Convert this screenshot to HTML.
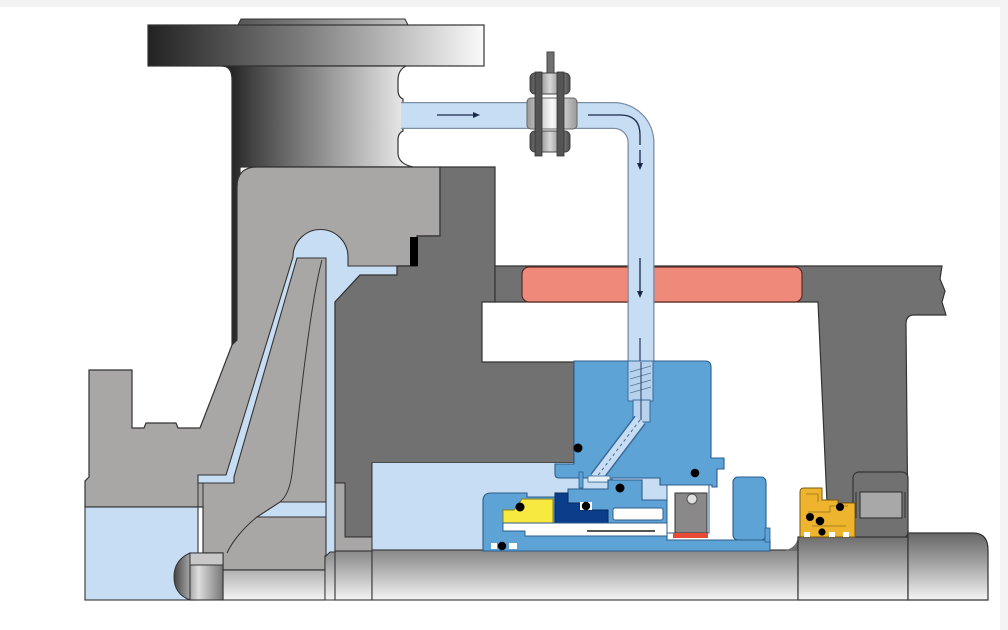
<!DOCTYPE html>
<html><head><meta charset="utf-8"><style>
html,body{margin:0;padding:0;background:#fff;}
svg{display:block}
</style></head><body>
<svg width="1008" height="630" viewBox="0 0 1008 630" xmlns="http://www.w3.org/2000/svg">
<defs>
<linearGradient id="gFl" gradientUnits="userSpaceOnUse" x1="148" y1="0" x2="484" y2="0">
 <stop offset="0" stop-color="#222"/><stop offset="0.45" stop-color="#7a7a7a"/><stop offset="1" stop-color="#fafafa"/>
</linearGradient>
<linearGradient id="gNeck" gradientUnits="userSpaceOnUse" x1="232" y1="0" x2="410" y2="0">
 <stop offset="0" stop-color="#262626"/><stop offset="0.12" stop-color="#444"/><stop offset="0.55" stop-color="#999"/><stop offset="1" stop-color="#eeeeee"/>
</linearGradient>
<linearGradient id="gShaft" gradientUnits="userSpaceOnUse" x1="0" y1="533" x2="0" y2="600">
 <stop offset="0" stop-color="#666"/><stop offset="0.45" stop-color="#a2a2a2"/><stop offset="1" stop-color="#f4f4f4"/>
</linearGradient>
<linearGradient id="gNut" gradientUnits="userSpaceOnUse" x1="174" y1="0" x2="223" y2="0">
 <stop offset="0" stop-color="#444"/><stop offset="0.5" stop-color="#ddd"/><stop offset="1" stop-color="#777"/>
</linearGradient>
<linearGradient id="gBolt" x1="0" y1="0" x2="1" y2="0">
 <stop offset="0" stop-color="#4a4a4a"/><stop offset="0.5" stop-color="#d8d8d8"/><stop offset="1" stop-color="#4a4a4a"/>
</linearGradient>
<linearGradient id="gBody" x1="0" y1="0" x2="1" y2="0">
 <stop offset="0" stop-color="#999"/><stop offset="0.5" stop-color="#fafafa"/><stop offset="1" stop-color="#999"/>
</linearGradient>
</defs>

<!-- background strips -->
<rect x="0" y="0" width="1008" height="7" fill="#f3f3f3"/>
<rect x="1000" y="0" width="8" height="630" fill="#f4f4f4"/>

<!-- flange -->
<path d="M238 25 L241 19 H405 L408 25 Z" fill="url(#gFl)" stroke="#333" stroke-width="1"/>
<rect x="148" y="25" width="336" height="41" fill="url(#gFl)" stroke="#333" stroke-width="1.2"/>

<!-- neck -->
<path d="M222 66 H406 Q398 70 398 80 V90 Q398 97 403 99 V131 Q398 133 398 140 V154 Q399 164 413 167 H240 V342 L232 346 V80 Q232 66 222 66 Z" fill="url(#gNeck)" stroke="#333" stroke-width="1.2"/>

<!-- horizontal/vertical pipe -->
<path d="M401 115.5 H614 A27 27 0 0 1 641 142.5 V362" fill="none" stroke="#7a8ea4" stroke-width="27"/>
<path d="M401 115.5 H614 A27 27 0 0 1 641 142.5 V362" fill="none" stroke="#c6ddf3" stroke-width="24.5"/>

<!-- valve -->
<rect x="547" y="52" width="7" height="25" fill="#707070" stroke="#444" stroke-width="1"/>
<rect x="530" y="73" width="40" height="21" rx="5" fill="url(#gBolt)" stroke="#444" stroke-width="1"/>
<rect x="530" y="131" width="40" height="21" rx="5" fill="url(#gBolt)" stroke="#444" stroke-width="1"/>
<rect x="527" y="98" width="50" height="31" rx="4" fill="url(#gBody)" stroke="#666" stroke-width="1"/>
<rect x="535" y="72" width="7" height="84" fill="#555" stroke="#333" stroke-width="0.8"/>
<rect x="557" y="72" width="7" height="84" fill="#555" stroke="#333" stroke-width="0.8"/>

<!-- flow arrows -->
<line x1="437" y1="115" x2="474" y2="115" stroke="#1b2a48" stroke-width="1.3"/>
<polygon points="480,115 473,112 473,118" fill="#1b2a48"/>
<path d="M588 115 H620 Q640 115 640 135 V164" fill="none" stroke="#1b2a48" stroke-width="1.3"/>
<polygon points="640,170 637,163 643,163" fill="#1b2a48"/>

<!-- light gray casing + impeller -->
<path d="M237 187 Q237 167 257 167 H440 V236 H417 V266 H397 V275 H360 L335 302 V552 L325 556 V570 H223 V553 H203 V507 H85 V481 L89 477 V370 H132 V428 H144 L146 423 H176 L178 428 H200 L232 345 L237 340 Z" fill="#a9a6a6" stroke="#333" stroke-width="1.2"/>
<line x1="198" y1="483" x2="198" y2="507" stroke="#333" stroke-width="1"/>
<line x1="203" y1="483" x2="203" y2="553" stroke="#333" stroke-width="1"/>

<!-- blue channel -->
<path d="M198 475 H226 L293 257 A27 27 0 0 1 348 257 V266 H397 V275 H360 L335 302 V552 L326 556 V258 H297 L234 477 V483 H198 Z" fill="#c6ddf3" stroke="#333" stroke-width="1.1"/>
<!-- impeller passage and vane line -->
<path d="M280 502 H326 V517 H257 Z" fill="#c6ddf3" stroke="#333" stroke-width="1"/>
<path d="M322 260 C311 300 300 400 293 465 C291 488 286 497 280 502 L257 517 C243 528 232 542 227 553" fill="none" stroke="#333" stroke-width="1"/>
<line x1="297" y1="258" x2="326" y2="258" stroke="#333" stroke-width="1"/>

<!-- dark gray block -->
<path d="M440 167 H495 V302 H482 V362 H574 V463 H372 V537 H345 V483 H335 V302 L360 275 H397 V266 H417 V236 H440 Z" fill="#727171" stroke="#333" stroke-width="1.2"/>
<path d="M335 483 H345 V537 H372 V551 H335 Z" fill="#a9a6a6" stroke="#333" stroke-width="1"/>
<rect x="410" y="237" width="8" height="29" fill="#000"/>

<!-- bearing bar + leg -->
<path d="M495 266 H942 L940 279 L945 291 L942 302 L946 315 H914 Q906 315 906 324 L908 538 H853 V503 H827 L818 302 H495 Z" fill="#727171" stroke="#333" stroke-width="1.2"/>
<rect x="522" y="267" width="280" height="35" rx="7" fill="#ef8a7b" stroke="#5a2a24" stroke-width="1.2"/>

<!-- vertical pipe over bar (seamless with path) -->
<rect x="628.75" y="145" width="24.5" height="217" fill="#c6ddf3"/>
<line x1="628.125" y1="145" x2="628.125" y2="362" stroke="#7a8ea4" stroke-width="1.25"/>
<line x1="653.875" y1="145" x2="653.875" y2="362" stroke="#7a8ea4" stroke-width="1.25"/>
<line x1="640" y1="150" x2="640" y2="164" stroke="#1b2a48" stroke-width="1.3"/>
<polygon points="640,170 637,163 643,163" fill="#1b2a48"/>
<line x1="640" y1="258" x2="640" y2="292" stroke="#1b2a48" stroke-width="1.3"/>
<polygon points="640,298 637,291 643,291" fill="#1b2a48"/>
<line x1="640" y1="338" x2="640" y2="362" stroke="#1b2a48" stroke-width="1.1"/>

<!-- bearing box -->
<rect x="853" y="472" width="55" height="66" rx="6" fill="#727171" stroke="#333" stroke-width="1.2"/>
<rect x="860" y="492" width="42" height="26" fill="#a8a8a8" stroke="#333" stroke-width="1.1"/>
<line x1="856" y1="492" x2="856" y2="518" stroke="#333" stroke-width="1"/>
<line x1="905" y1="492" x2="905" y2="518" stroke="#333" stroke-width="1"/>

<!-- light blue fluid region -->
<rect x="372" y="463" width="295" height="88" fill="#c6ddf3"/>
<line x1="372" y1="463" x2="372" y2="551" stroke="#333" stroke-width="1"/>

<!-- lower-left blue -->
<rect x="85" y="507" width="113" height="93" fill="#c6ddf3" stroke="#333" stroke-width="1.1"/>

<!-- shaft -->
<rect x="223" y="570" width="102" height="30" fill="url(#gShaft)" stroke="#333" stroke-width="1.1"/>
<path d="M325 557 L330 552 H335 V600 H325 Z" fill="url(#gShaft)" stroke="#333" stroke-width="1"/>
<rect x="335" y="551" width="37" height="49" fill="url(#gShaft)" stroke="#333" stroke-width="1.1"/>
<rect x="372" y="550" width="426" height="50" fill="url(#gShaft)" stroke="#333" stroke-width="1.1"/>
<path d="M780 551 Q796 550 798 537 V551 Z" fill="#6e6e6e"/>
<rect x="798" y="537" width="110" height="63" fill="url(#gShaft)" stroke="#333" stroke-width="1.2"/>
<path d="M908 533 H973 Q988 533 988 550 V600 H908 Z" fill="url(#gShaft)" stroke="#333" stroke-width="1.2"/>
<!-- nut -->
<path d="M190 553 Q174 560 174 577 Q174 594 190 600 Z" fill="url(#gNut)" stroke="#333" stroke-width="1"/>
<rect x="190" y="553" width="33" height="47" fill="url(#gNut)" stroke="#333" stroke-width="1.1"/>
<rect x="190" y="553" width="33" height="12" fill="#c8c8c8" stroke="#333" stroke-width="1"/>

<!-- seal gland -->
<path d="M574 361 H705 Q711 361 711 367 V458 H724 V469 H717 V487 H712 V485 H660 V478 H612 V482 H590 V478 H559 Q555 478 555 474 V464 H574 Z" fill="#5ea3d6" stroke="#2c5c8c" stroke-width="1.1"/>
<!-- gland pipe -->
<rect x="628" y="361" width="25" height="40" fill="#b6d2ee" stroke="#3a6a9a" stroke-width="1"/>
<g stroke="#5a7a9a" stroke-width="0.9">
<line x1="630" y1="372" x2="651" y2="366"/><line x1="630" y1="379" x2="651" y2="373"/><line x1="630" y1="386" x2="651" y2="380"/><line x1="630" y1="393" x2="651" y2="387"/>
</g>
<rect x="633" y="400" width="17" height="22" fill="#b6d2ee" stroke="#3a6a9a" stroke-width="1"/>
<line x1="641" y1="362" x2="641" y2="420" stroke="#2a3a5a" stroke-width="1"/>
<path d="M640 420 L596 478" stroke="#3a6a9a" stroke-width="14" fill="none"/>
<path d="M640 420 L596 478" stroke="#c6ddf3" stroke-width="11" fill="none"/>
<path d="M640 420 L596 478" stroke="#4a6a8a" stroke-width="1" stroke-dasharray="3 3" fill="none"/>
<rect x="588" y="476" width="22" height="6" fill="#e8f0f8" stroke="#3a6a9a" stroke-width="0.8"/>
<rect x="579" y="472" width="4" height="16" fill="#5ea3d6" stroke="#2c5c8c" stroke-width="0.8"/>

<!-- rotating seal assembly -->
<path d="M483 501 Q483 493 491 493 H527 V497 H555 V493 H568 V489 H608 V480 H642 V500 H667 V540 H770 V551 H483 Z" fill="#5ea3d6" stroke="#2c5c8c" stroke-width="1.1"/>
<path d="M503 510 H514 L522 499 H553 V523 H503 Z" fill="#f7e940" stroke="#8a8020" stroke-width="1"/>
<path d="M555 493 H568 V503 H580 V510 H608 V523 H555 Z" fill="#0a3d8a" stroke="#062a60" stroke-width="1"/>
<path d="M503 523 H667 V536 H525 V531 H503 Z" fill="#fff" stroke="#2c5c8c" stroke-width="0.9"/>
<line x1="587" y1="531" x2="655" y2="531" stroke="#555" stroke-width="2"/>
<rect x="613" y="508" width="50" height="12" rx="2" fill="#fff" stroke="#2c5c8c" stroke-width="1"/>
<rect x="667" y="485" width="42" height="48" fill="#fff" stroke="#2c5c8c" stroke-width="1"/>
<rect x="675" y="493" width="32" height="40" fill="#8a8888" stroke="#333" stroke-width="1"/>
<circle cx="692" cy="499" r="5" fill="#e0e0e0" stroke="#555" stroke-width="1"/>
<rect x="673" y="533" width="35" height="5" fill="#e84a36"/>
<rect x="733" y="477" width="33" height="63" rx="5" fill="#5ea3d6" stroke="#2c5c8c" stroke-width="1.1"/>
<rect x="765" y="528" width="5" height="14" fill="#5ea3d6" stroke="#2c5c8c" stroke-width="0.8"/>
<rect x="491" y="543" width="6" height="6" fill="#fff"/>
<rect x="509" y="543" width="8" height="6" fill="#fff"/>
<rect x="580" y="502" width="12" height="8" fill="#fff"/>

<!-- o-rings -->
<g fill="#000">
<circle cx="578" cy="448" r="4.5"/>
<circle cx="620" cy="488" r="4.5"/>
<circle cx="586" cy="506" r="4.2"/>
<circle cx="520" cy="507" r="4.5"/>
<circle cx="502" cy="546" r="4.2"/>
<circle cx="695" cy="473" r="4.3"/>
</g>

<!-- lip seal (orange) -->
<path d="M800 492 Q800 488 804 488 H822 V500 H838 V503 H855 V537 H800 Z" fill="#eeb42e" stroke="#7a5a10" stroke-width="1"/>
<path d="M806 494 H818 V502 M808 512 H830 V506 H848 M812 526 H846" fill="none" stroke="#9a7018" stroke-width="0.8"/>
<g fill="#000">
<circle cx="810" cy="517" r="4"/>
<circle cx="820" cy="521" r="4.3"/>
<circle cx="840" cy="507" r="4"/>
<circle cx="822" cy="532" r="3.6"/>
</g>
<rect x="804" y="532" width="6" height="5" fill="#fff"/>
<rect x="829" y="532" width="6" height="5" fill="#fff"/>
<rect x="843" y="532" width="6" height="5" fill="#fff"/>
</svg>
</body></html>
